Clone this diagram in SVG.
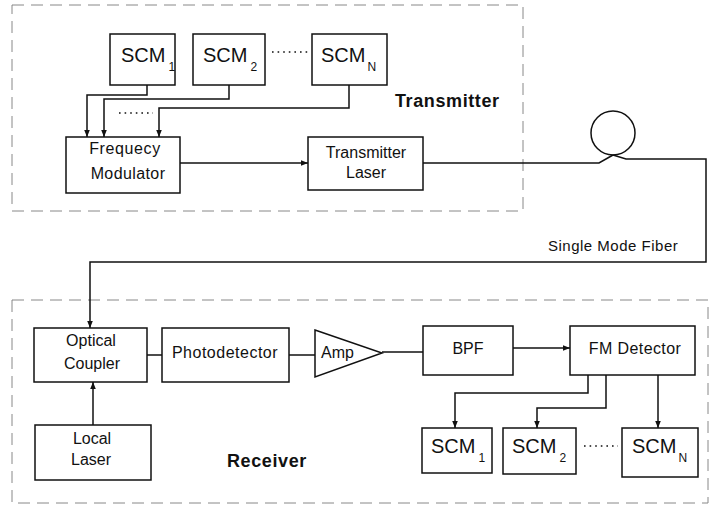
<svg xmlns="http://www.w3.org/2000/svg" width="710" height="510" viewBox="0 0 710 510">
<defs>
<style>
.box{fill:#fff;stroke:#111;stroke-width:1.5}
.frame{fill:none;stroke:#888;stroke-width:1;stroke-dasharray:12 7}
.ln{fill:none;stroke:#111;stroke-width:1.5}
.dots{fill:none;stroke:#111;stroke-width:1.6;stroke-dasharray:1.6 4}
text{font-family:"Liberation Sans",Arial,sans-serif;fill:#111}
.t{font-size:16px;text-anchor:middle}
.scm{font-size:20px}
.sub{font-size:12px}
.lbl{font-size:18px;font-weight:bold;letter-spacing:0.6px}
</style>
<marker id="ah" viewBox="0 0 10 10" refX="10" refY="5" markerWidth="7" markerHeight="7" orient="auto" markerUnits="userSpaceOnUse">
<path d="M0,1 L10,5 L0,9 Z" fill="#111"/>
</marker>
</defs>
<rect class="frame" x="12" y="5" width="511" height="206"/>
<rect class="frame" x="12" y="300" width="696" height="203"/>
<g id="connectors">
<path class="ln" d="M147,85 V95 H87 V137" marker-end="url(#ah)"/>
<path class="ln" d="M229,85 V99 H104 V137" marker-end="url(#ah)"/>
<path class="ln" d="M349,85 V108 H159 V137" marker-end="url(#ah)"/>
<path class="dots" d="M119,113 H153"/>
<path class="ln" d="M180,163 H308" marker-end="url(#ah)"/>
<path class="ln" d="M423,163 H599 L613,155"/>
<circle class="ln" cx="613" cy="133" r="22"/>
<path class="ln" d="M613,155 L626,159 H706 V262 H90 V328" marker-end="url(#ah)"/>
<path class="ln" d="M93,425 V382" marker-end="url(#ah)"/>
<path class="ln" d="M147,355 H162"/>
<path class="ln" d="M289,355 H315"/>
<path class="ln" d="M382,352 H423"/>
<path class="ln" d="M513,348 H570" marker-end="url(#ah)"/>
<path class="ln" d="M588,375 V393 H455 V428" marker-end="url(#ah)"/>
<path class="ln" d="M606,375 V408 H537 V428" marker-end="url(#ah)"/>
<path class="ln" d="M658,375 V428" marker-end="url(#ah)"/>
</g>
<g id="tx-scm1"><rect class="box" x="110" y="34" width="65" height="51"/><text class="scm" x="121" y="62">SCM<tspan class="sub" dx="3" dy="9">1</tspan></text></g>
<g id="tx-scm2"><rect class="box" x="193" y="34" width="72" height="51"/><text class="scm" x="203" y="62">SCM<tspan class="sub" dx="3" dy="9">2</tspan></text></g>
<path class="dots" d="M272,52 H308"/>
<g id="tx-scmn"><rect class="box" x="312" y="34" width="75" height="51"/><text class="scm" x="321" y="62">SCM<tspan class="sub" dx="2" dy="9">N</tspan></text></g>
<g id="freq-mod"><rect class="box" x="66" y="137" width="114" height="56"/><text class="t" x="125" y="154" letter-spacing="0.6">Frequecy</text><text class="t" x="128" y="179" letter-spacing="0.4">Modulator</text></g>
<g id="tx-laser"><rect class="box" x="308" y="137" width="115" height="53"/><text class="t" x="366" y="158">Transmitter</text><text class="t" x="366" y="178">Laser</text></g>
<text class="lbl" x="395" y="107">Transmitter</text>
<text x="548" y="251" font-size="15" letter-spacing="0.5">Single Mode Fiber</text>
<g id="opt-coupler"><rect class="box" x="34" y="328" width="113" height="54"/><text class="t" x="91" y="346">Optical</text><text class="t" x="92" y="369">Coupler</text></g>
<g id="photodet"><rect class="box" x="162" y="328" width="127" height="54"/><text class="t" x="225" y="358" letter-spacing="0.5">Photodetector</text></g>
<g id="amp"><path class="box" d="M315,330 L382,353 L315,377 Z"/><text x="321" y="358" font-size="16">Amp</text></g>
<g id="bpf"><rect class="box" x="423" y="326" width="90" height="49"/><text class="t" x="468" y="354">BPF</text></g>
<g id="fm-det"><rect class="box" x="570" y="326" width="125" height="49"/><text class="t" x="635" y="354" letter-spacing="0.4">FM Detector</text></g>
<g id="local-laser"><rect class="box" x="35" y="425" width="116" height="55"/><text class="t" x="92" y="444">Local</text><text class="t" x="91" y="465">Laser</text></g>
<text class="lbl" x="227" y="467">Receiver</text>
<g id="rx-scm1"><rect class="box" x="422" y="428" width="70" height="45"/><text class="scm" x="431" y="453">SCM<tspan class="sub" dx="3" dy="9">1</tspan></text></g>
<g id="rx-scm2"><rect class="box" x="503" y="428" width="73" height="46"/><text class="scm" x="512" y="453">SCM<tspan class="sub" dx="3" dy="9">2</tspan></text></g>
<path class="dots" d="M584,446 H618"/>
<g id="rx-scmn"><rect class="box" x="622" y="428" width="76" height="49"/><text class="scm" x="632" y="453">SCM<tspan class="sub" dx="2" dy="9">N</tspan></text></g>
</svg>
